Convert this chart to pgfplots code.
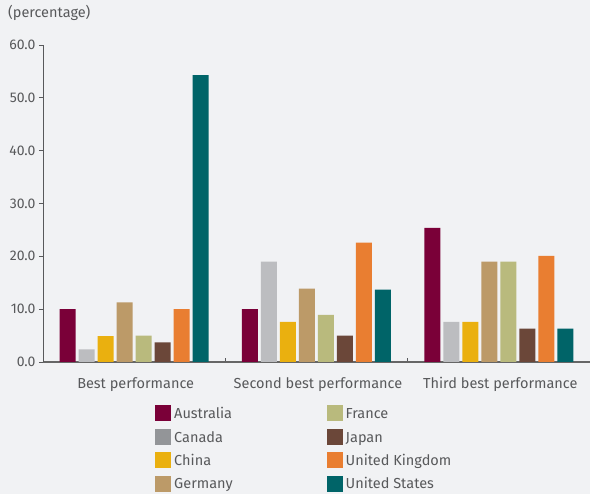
\documentclass[border=0pt]{standalone}
\usepackage{pgfplots}
\pgfplotsset{compat=1.18}
\usepackage{fontspec}
\setmainfont{Fira Sans}
\usetikzlibrary{calc,backgrounds}
\definecolor{bg}{HTML}{F1F2F4}
\definecolor{txt}{HTML}{58595B}
\definecolor{cAus}{HTML}{7A0038}
\definecolor{cCan}{HTML}{BCBDC0}
\definecolor{cCanL}{HTML}{939598}
\definecolor{cChi}{HTML}{EAB00F}
\definecolor{cGer}{HTML}{BC9A68}
\definecolor{cFra}{HTML}{B9BA7D}
\definecolor{cJap}{HTML}{6B4739}
\definecolor{cUK}{HTML}{E97E31}
\definecolor{cUS}{HTML}{006468}
\begin{document}
\begin{tikzpicture}
\begin{axis}[
  name=ax,
  width=547pt, height=317pt, scale only axis,
  xmin=-0.5, xmax=2.5, ymin=0, ymax=60,
  ybar=3pt, bar width=16pt,
  axis x line*=bottom, axis y line*=left,
  x axis line style={draw=black!60, line width=1.5pt, -},
  y axis line style={draw=txt, line width=0.9pt, -},
  xtick={-0.5,0.5,1.5,2.5}, xticklabels={},
  x tick style={draw=txt, line width=0.9pt},
  xtick align=inside, major tick length=4pt,
  extra x ticks={0,1,2},
  extra x tick labels={Best performance, Second best performance, Third best performance},
  extra x tick style={major tick length=0pt, xticklabel style={yshift=-12pt, xshift=1.5pt, font=\fontsize{14.5pt}{17pt}\selectfont}},
  ytick={0,10,...,60},
  ytick align=outside,
  y tick style={draw=txt, line width=0.9pt},
  yticklabel style={/pgf/number format/.cd, fixed, fixed zerofill, precision=1},
  /pgf/number format/assume math mode=true,
  ticklabel style={font=\fontsize{14pt}{17pt}\selectfont, text=txt},
  legend style={at={(0.2048,-0.1356)}, anchor=north west, draw=none, fill=none,
    inner sep=0pt, row sep=6.5pt,
    font=\fontsize{14.5pt}{17pt}\selectfont, text=txt,
    nodes={inner sep=0pt, text height=11pt, text depth=3.5pt},
    /tikz/every odd column/.append style={column sep=3pt},
    /tikz/every even column/.append style={column sep=94pt}},
  legend cell align=left,
  legend columns=4, transpose legend,
  legend image code/.code={\fill[#1,draw=none] (0pt,-6.3pt) rectangle (16pt,9.7pt);},
]
\addplot[fill=cAus, draw=none] coordinates {(0,10.0) (1,10.0) (2,25.4)};
\addplot[fill=cCan, draw=none, legend image code/.code={\fill[fill=cCanL,draw=none] (0pt,-6.3pt) rectangle (16pt,9.7pt);}] coordinates {(0,2.4) (1,19.0) (2,7.6)};
\addplot[fill=cChi, draw=none] coordinates {(0,4.9) (1,7.6) (2,7.6)};
\addplot[fill=cGer, draw=none] coordinates {(0,11.3) (1,13.9) (2,19.0)};
\addplot[fill=cFra, draw=none] coordinates {(0,5.0) (1,8.9) (2,19.0)};
\addplot[fill=cJap, draw=none] coordinates {(0,3.7) (1,5.0) (2,6.3)};
\addplot[fill=cUK, draw=none] coordinates {(0,10.0) (1,22.6) (2,20.1)};
\addplot[fill=cUS, draw=none] coordinates {(0,54.3) (1,13.7) (2,6.3)};
\legend{Australia, Canada, China, Germany, France, Japan, United Kingdom, United States}
\end{axis}
\node[anchor=base west, font=\fontsize{14.5pt}{17pt}\selectfont, text=txt, inner sep=0pt] at ($(ax.south west)+(-35pt,344pt)$) {(percentage)};
\begin{scope}[on background layer]
\fill[bg] ($(ax.south west)+(-43pt,-132pt)$) rectangle ($(ax.south west)+(547pt,362pt)$);
\end{scope}
\pgfresetboundingbox
\path[use as bounding box] ($(ax.south west)+(-43pt,-132pt)$) rectangle ($(ax.south west)+(547pt,362pt)$);
\end{tikzpicture}
\end{document}
